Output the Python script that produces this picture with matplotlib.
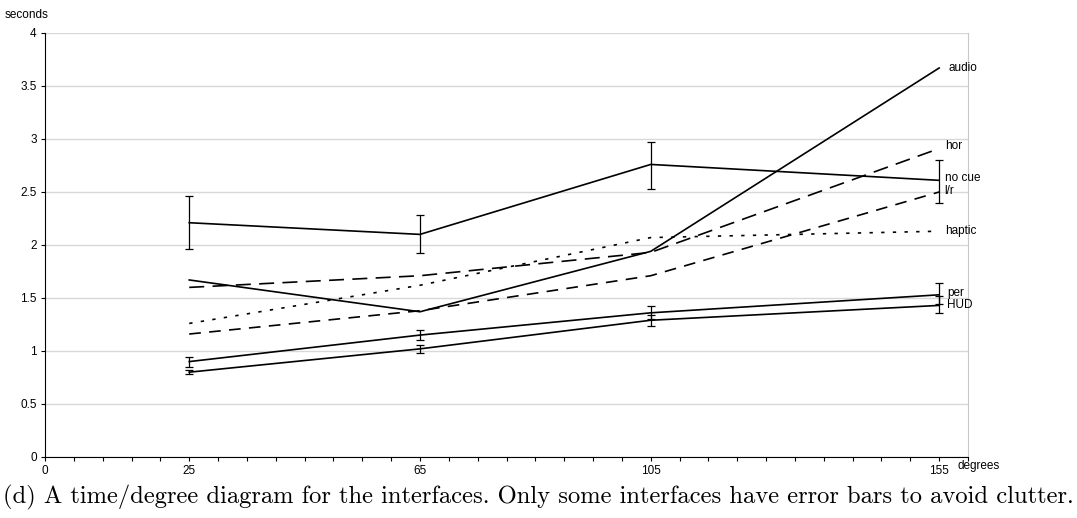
import numpy as np
import matplotlib
matplotlib.use('Agg')
import matplotlib.pyplot as plt

degrees = [25, 65, 105, 155]

# solid lines with error bars
no_cue = [2.21, 2.10, 2.76, 2.61]
no_cue_lo = [1.96, 1.92, 2.53, 2.40]
no_cue_hi = [2.46, 2.28, 2.97, 2.80]

per = [0.90, 1.15, 1.36, 1.53]
per_lo = [0.85, 1.10, 1.30, 1.44]
per_hi = [0.94, 1.20, 1.42, 1.64]

hud = [0.80, 1.02, 1.29, 1.43]
hud_lo = [0.78, 0.98, 1.24, 1.36]
hud_hi = [0.82, 1.06, 1.34, 1.52]

# lines without error bars
audio = [1.67, 1.37, 1.94, 3.67]
hor = [1.60, 1.71, 1.93, 2.91]
lr = [1.16, 1.38, 1.71, 2.50]
haptic = [1.26, 1.62, 2.07, 2.13]

tick_labels = {25: '25', 65: '65', 105: '105', 155: '155'}

FS = 8.5
FONT = 'Liberation Sans'

fig = plt.figure(figsize=(10.77, 5.18), dpi=100)
ax = fig.add_axes([0.0418, 0.1178, 0.857, 0.8185])

lw = 1.2
for vals, lo, hi in [(no_cue, no_cue_lo, no_cue_hi), (per, per_lo, per_hi), (hud, hud_lo, hud_hi)]:
    v = np.array(vals)
    err = [v - np.array(lo), np.array(hi) - v]
    ax.errorbar(degrees, v, yerr=err, color='black', lw=lw, elinewidth=0.9,
                capsize=3, capthick=0.9, zorder=3)

ax.plot(degrees, audio, color='black', lw=lw, zorder=3)
ax.plot(degrees, hor, color='black', lw=lw, dashes=(9, 5), zorder=3)
ax.plot(degrees, lr, color='black', lw=lw, dashes=(7, 5), zorder=3)
ax.plot(degrees, haptic, color='black', lw=lw, dashes=(2, 5), zorder=3)

labels = [('audio', audio), ('hor', hor), ('no cue', no_cue), ('l/r', lr),
          ('haptic', haptic), ('per', per), ('HUD', hud)]
offsets = {'audio': (7, 0), 'hor': (4, 2), 'no cue': (4, 2), 'l/r': (4, 1),
           'haptic': (4, 0), 'per': (6, 1), 'HUD': (6, 0)}
for name, vals in labels:
    ax.annotate(name, (degrees[-1], vals[-1]), xytext=offsets[name],
                textcoords='offset points', va='center', ha='left',
                fontsize=FS, family=FONT)

ax.set_xlim(0, 160)
ax.set_ylim(0, 4)
ax.set_xticks(np.arange(0, 161, 5))
ax.set_xticklabels(['0' if t == 0 else tick_labels.get(t, '') for t in range(0, 161, 5)])
ax.set_yticks(np.arange(0, 4.01, 0.5))
ax.set_yticklabels(['0', '0.5', '1', '1.5', '2', '2.5', '3', '3.5', '4'])
ax.tick_params(axis='both', direction='out', length=3, width=0.8, labelsize=FS, pad=3)
for lab in ax.get_xticklabels() + ax.get_yticklabels():
    lab.set_family(FONT)

ax.yaxis.grid(True, color='#d8d8d8', lw=1.0)
ax.set_axisbelow(True)
ax.spines['top'].set_visible(False)
ax.spines['right'].set_color('#c8c8c8')
ax.spines['left'].set_color('black')
ax.spines['bottom'].set_color('black')

fig.text(5 / 1077, 1 - 15 / 518, 'seconds', fontsize=FS, family=FONT, va='center')
fig.text(957 / 1077, 1 - 466 / 518, 'degrees', fontsize=FS, family=FONT, va='center')
fig.text(3 / 1077, 1 - 497 / 518,
         '(d) A time/degree diagram for the interfaces. Only some interfaces have error bars to avoid clutter.',
         fontsize=17.7, family='cmr10', va='center')

fig.savefig('out.png', dpi=100)
